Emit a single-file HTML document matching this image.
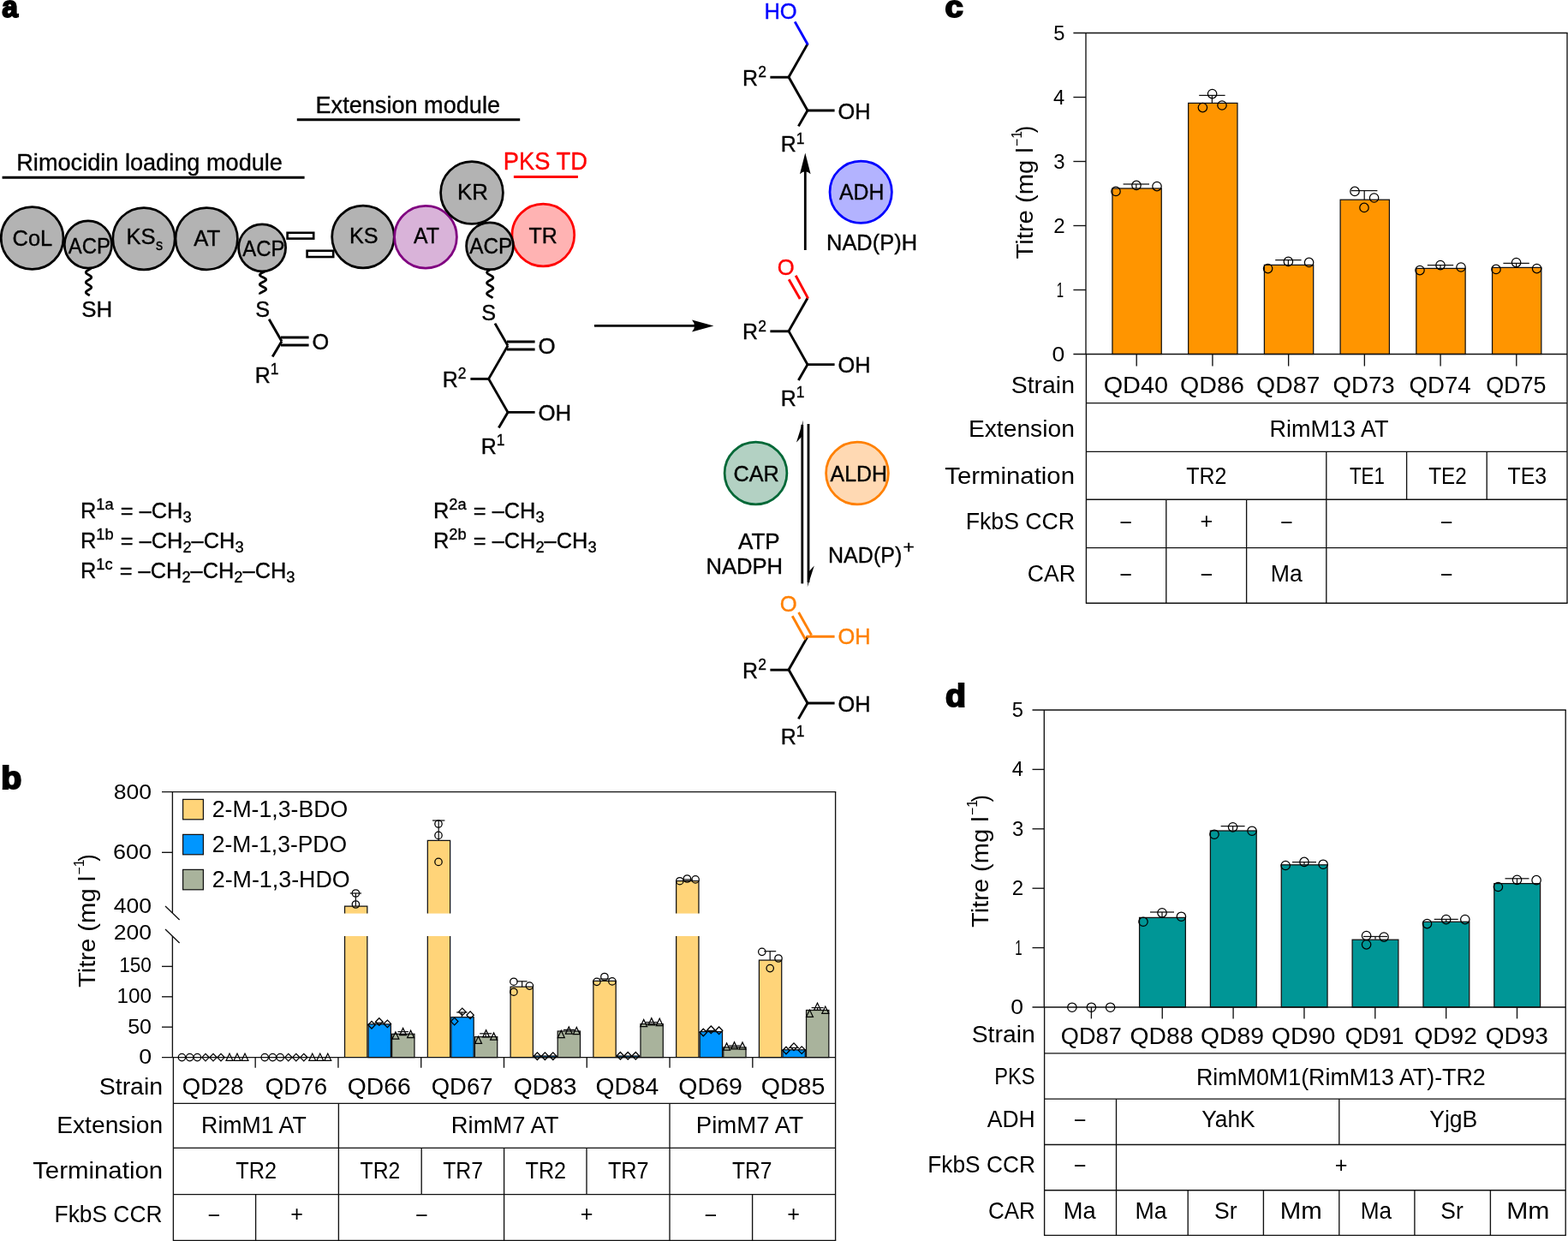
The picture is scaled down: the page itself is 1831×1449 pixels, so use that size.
<!DOCTYPE html>
<html lang="en">
<head>
<meta charset="utf-8">
<title>Figure</title>
<style>
html,body{margin:0;padding:0;background:#fff;}
body{width:1831px;height:1449px;overflow:hidden;}
svg{display:block;font-family:"Liberation Sans", sans-serif;}
svg text{white-space:pre;}
</style>
</head>
<body>
<svg width="1831" height="1449" viewBox="0 0 1831 1449">
<rect width="1831" height="1449" fill="#fff"/>
<text transform="translate(2.17,19.86) scale(0.8411,0.8667)" font-size="40" fill="#000" font-weight="700" stroke="#000" stroke-width="2.2" stroke-linejoin="miter">a</text>
<text transform="translate(1.24,921.32) scale(0.9842,0.9300)" font-size="40" fill="#000" font-weight="700" stroke="#000" stroke-width="2.2" stroke-linejoin="miter">b</text>
<text transform="translate(1103.61,19.86) scale(0.9550,0.8667)" font-size="40" fill="#000" font-weight="700" stroke="#000" stroke-width="2.2" stroke-linejoin="miter">c</text>
<text transform="translate(1103.88,825.02) scale(0.9794,0.9200)" font-size="40" fill="#000" font-weight="700" stroke="#000" stroke-width="2.2" stroke-linejoin="miter">d</text>
<text transform="translate(19.28,199.00) scale(1.0166,1.0350)" font-size="26.7" fill="#000" stroke="#000" stroke-width="0.35" stroke-linejoin="miter">Rimocidin loading module</text>
<line x1="2.60" y1="207.20" x2="355.60" y2="207.20" stroke="#000" stroke-width="2.9" stroke-linecap="butt"/>
<text transform="translate(368.48,131.80) scale(1.0159,1.0350)" font-size="26.7" fill="#000" stroke="#000" stroke-width="0.35" stroke-linejoin="miter">Extension module</text>
<line x1="346.80" y1="139.70" x2="607.20" y2="139.70" stroke="#000" stroke-width="2.9" stroke-linecap="butt"/>
<text transform="translate(587.87,198.20) scale(1.0212,1.0750)" font-size="26.7" fill="#ff0000" stroke="#ff0000" stroke-width="0.35" stroke-linejoin="miter">PKS TD</text>
<line x1="599.90" y1="206.50" x2="674.90" y2="206.50" stroke="#ff0000" stroke-width="2.9" stroke-linecap="butt"/>
<path d="M106.39,313.00 L106.03,313.40 L105.55,313.80 L104.97,314.20 L104.33,314.60 L103.65,315.00 L102.96,315.40 L102.30,315.80 L101.69,316.20 L101.17,316.60 L100.75,317.00 L100.47,317.40 L100.32,317.80 L100.32,318.20 L100.47,318.60 L100.75,319.00 L101.17,319.40 L101.69,319.80 L102.30,320.20 L102.96,320.60 L103.65,321.00 L104.33,321.40 L104.97,321.80 L105.55,322.20 L106.03,322.60 L106.39,323.00 L106.62,323.40 L106.70,323.80 L106.63,324.20 L106.42,324.60 L106.08,325.00 L105.61,325.40 L105.05,325.80 L104.41,326.20 L103.74,326.60 L103.05,327.00 L102.38,327.40 L101.77,327.80 L101.23,328.20 L100.80,328.60 L100.49,329.00 L100.33,329.40 L100.31,329.80 L100.44,330.20 L100.71,330.60 L101.11,331.00 L101.62,331.40 L102.22,331.80 L102.88,332.20 L103.56,332.60 L104.25,333.00 L104.90,333.40 L105.48,333.80 L105.97,334.20 L106.35,334.60 L106.60,335.00 L106.70,335.40 L106.65,335.80 L106.46,336.20 L106.13,336.60 L105.68,337.00 L105.12,337.40 L104.50,337.80 L103.82,338.20 L103.13,338.60 L102.46,339.00 L101.84,339.40 L101.29,339.80 L100.85,340.20 L100.53,340.60 L100.34,341.00 L100.30,341.40 L100.42,341.80 L100.67,342.20 L101.05,342.60 L101.55,343.00 L102.14,343.40 L102.79,343.80 L103.48,344.20 L104.16,344.60 L104.82,345.00" fill="none" stroke="#000" stroke-width="2.8" stroke-linecap="butt" stroke-linejoin="round"/>
<path d="M309.85,316.50 L309.37,316.84 L308.81,317.18 L308.17,317.52 L307.50,317.86 L306.81,318.19 L306.12,318.53 L305.47,318.87 L304.87,319.21 L304.35,319.55 L303.92,319.89 L303.61,320.23 L303.41,320.56 L303.35,320.90 L303.42,321.24 L303.61,321.58 L303.93,321.92 L304.36,322.26 L304.88,322.60 L305.48,322.94 L306.14,323.27 L306.82,323.61 L307.52,323.95 L308.19,324.29 L308.82,324.63 L309.38,324.97 L309.86,325.31 L310.24,325.65 L310.50,325.99 L310.63,326.32 L310.63,326.66 L310.51,327.00 L310.25,327.34 L309.88,327.68 L309.41,328.02 L308.84,328.36 L308.22,328.69 L307.54,329.03 L306.85,329.37 L306.17,329.71 L305.51,330.05 L304.91,330.39 L304.38,330.73 L303.95,331.07 L303.62,331.41 L303.42,331.74 L303.35,332.08 L303.41,332.42 L303.60,332.76 L303.91,333.10 L304.33,333.44 L304.85,333.78 L305.44,334.12 L306.10,334.45 L306.78,334.79 L307.47,335.13 L308.15,335.47 L308.78,335.81 L309.35,336.15 L309.84,336.49 L310.22,336.83 L310.49,337.16 L310.63,337.50 L310.64,337.84 L310.52,338.18 L310.27,338.52 L309.91,338.86 L309.44,339.20 L308.88,339.54 L308.26,339.87 L307.59,340.21 L306.90,340.55 L306.21,340.89 L305.55,341.23 L304.94,341.57 L304.41,341.91 L303.97,342.25 L303.64,342.58 L303.43,342.92 L303.35,343.26 L303.40,343.60" fill="none" stroke="#000" stroke-width="2.8" stroke-linecap="butt" stroke-linejoin="round"/>
<path d="M572.92,314.50 L572.17,314.92 L571.41,315.34 L570.69,315.76 L570.03,316.18 L569.48,316.59 L569.04,317.01 L568.75,317.43 L568.61,317.85 L568.63,318.27 L568.82,318.69 L569.15,319.11 L569.62,319.52 L570.21,319.94 L570.89,320.36 L571.62,320.78 L572.38,321.20 L573.14,321.62 L573.85,322.04 L574.48,322.46 L575.02,322.88 L575.43,323.29 L575.69,323.71 L575.80,324.13 L575.74,324.55 L575.53,324.97 L575.17,325.39 L574.67,325.81 L574.07,326.23 L573.38,326.64 L572.63,327.06 L571.87,327.48 L571.12,327.90 L570.42,328.32 L569.80,328.74 L569.29,329.16 L568.91,329.57 L568.68,329.99 L568.60,330.41 L568.69,330.83 L568.93,331.25 L569.32,331.67 L569.84,332.09 L570.46,332.51 L571.17,332.93 L571.92,333.34 L572.68,333.76 L573.42,334.18 L574.10,334.60 L574.70,335.02 L575.19,335.44 L575.55,335.86 L575.75,336.27 L575.80,336.69 L575.68,337.11 L575.41,337.53 L574.99,337.95 L574.45,338.37 L573.81,338.79 L573.09,339.21 L572.34,339.62 L571.58,340.04 L570.84,340.46 L570.17,340.88 L569.59,341.30 L569.13,341.72 L568.80,342.14 L568.63,342.56 L568.61,342.98 L568.76,343.39 L569.06,343.81 L569.51,344.23 L570.07,344.65 L570.73,345.07 L571.45,345.49 L572.21,345.91 L572.97,346.32 L573.69,346.74 L574.35,347.16 L574.91,347.58 L575.35,348.00" fill="none" stroke="#000" stroke-width="2.8" stroke-linecap="butt" stroke-linejoin="round"/>
<circle cx="37.60" cy="278.00" r="36.40" fill="#b3b3b3" stroke="#000" stroke-width="2.75"/>
<text transform="translate(14.51,287.30) scale(1.0313,1.0450)" font-size="24.7" fill="#000" stroke="#000" stroke-width="0.35" stroke-linejoin="miter">CoL</text>
<circle cx="168.00" cy="278.70" r="36.20" fill="#b3b3b3" stroke="#000" stroke-width="2.75"/>
<circle cx="102.90" cy="285.50" r="27.60" fill="#b3b3b3" stroke="#000" stroke-width="2.75"/>
<text transform="translate(79.70,295.60) scale(0.9688,1.0450)" font-size="24.7" fill="#000" stroke="#000" stroke-width="0.35" stroke-linejoin="miter">ACP</text>
<text transform="translate(147.50,285.40) scale(1.0373,1.0450)" font-size="24.7" fill="#000" stroke="#000" stroke-width="0.35" stroke-linejoin="miter">KS</text>
<text transform="translate(181.94,291.70) scale(0.9332,1.0450)" font-size="17.5" fill="#000" stroke="#000" stroke-width="0.35" stroke-linejoin="miter">s</text>
<circle cx="241.20" cy="278.70" r="36.20" fill="#b3b3b3" stroke="#000" stroke-width="2.75"/>
<text transform="translate(226.20,287.30) scale(1.0407,1.0450)" font-size="24.7" fill="#000" stroke="#000" stroke-width="0.35" stroke-linejoin="miter">AT</text>
<circle cx="306.10" cy="289.30" r="27.50" fill="#b3b3b3" stroke="#000" stroke-width="2.75"/>
<text transform="translate(283.30,298.90) scale(0.9688,1.0450)" font-size="24.7" fill="#000" stroke="#000" stroke-width="0.35" stroke-linejoin="miter">ACP</text>
<rect x="335.60" y="271.80" width="30.60" height="6.80" fill="#fff" stroke="#000" stroke-width="2.6"/>
<rect x="358.60" y="292.80" width="30.60" height="7.20" fill="#fff" stroke="#000" stroke-width="2.6"/>
<circle cx="424.00" cy="276.50" r="36.30" fill="#b3b3b3" stroke="#000" stroke-width="2.75"/>
<text transform="translate(408.03,284.20) scale(1.0206,1.0450)" font-size="24.7" fill="#000" stroke="#000" stroke-width="0.35" stroke-linejoin="miter">KS</text>
<circle cx="497.00" cy="276.70" r="36.40" fill="#d9b3d9" stroke="#800080" stroke-width="2.75"/>
<text transform="translate(483.00,284.20) scale(1.0032,1.0450)" font-size="24.7" fill="#000" stroke="#000" stroke-width="0.35" stroke-linejoin="miter">AT</text>
<circle cx="551.00" cy="225.00" r="36.40" fill="#b3b3b3" stroke="#000" stroke-width="2.75"/>
<text transform="translate(533.98,233.20) scale(1.0467,1.0450)" font-size="24.7" fill="#000" stroke="#000" stroke-width="0.35" stroke-linejoin="miter">KR</text>
<circle cx="634.30" cy="274.50" r="36.40" fill="#ffb3b3" stroke="#ff0000" stroke-width="2.75"/>
<text transform="translate(617.61,284.20) scale(1.0100,1.0450)" font-size="24.7" fill="#000" stroke="#000" stroke-width="0.35" stroke-linejoin="miter">TR</text>
<circle cx="572.00" cy="287.30" r="27.40" fill="#b3b3b3" stroke="#000" stroke-width="2.75"/>
<text transform="translate(548.20,295.50) scale(0.9869,1.0450)" font-size="24.7" fill="#000" stroke="#000" stroke-width="0.35" stroke-linejoin="miter">ACP</text>
<text transform="translate(95.19,370.00) scale(1.0342,1.0450)" font-size="25.0" fill="#000" stroke="#000" stroke-width="0.35" stroke-linejoin="miter">SH</text>
<text transform="translate(298.21,369.80) scale(1.0105,1.0450)" font-size="25.0" fill="#000" stroke="#000" stroke-width="0.35" stroke-linejoin="miter">S</text>
<line x1="314.20" y1="372.80" x2="329.00" y2="398.50" stroke="#000" stroke-width="2.9" stroke-linecap="butt"/>
<line x1="328.00" y1="394.00" x2="360.60" y2="394.00" stroke="#000" stroke-width="2.9" stroke-linecap="butt"/>
<line x1="328.00" y1="403.00" x2="360.60" y2="403.00" stroke="#000" stroke-width="2.9" stroke-linecap="butt"/>
<text transform="translate(364.41,408.00) scale(1.0124,1.0450)" font-size="25.0" fill="#000" stroke="#000" stroke-width="0.35" stroke-linejoin="miter">O</text>
<line x1="329.00" y1="398.50" x2="318.20" y2="416.40" stroke="#000" stroke-width="2.9" stroke-linecap="butt"/>
<text transform="translate(297.70,447.00) scale(1.0,1.045)" font-size="25.0" fill="#000" stroke="#000" stroke-width="0.35"><tspan dy="0.00" font-size="25.00">R</tspan><tspan dy="-9.20" font-size="17.50">1</tspan></text>
<text transform="translate(562.21,374.20) scale(1.0105,1.0450)" font-size="25.0" fill="#000" stroke="#000" stroke-width="0.35" stroke-linejoin="miter">S</text>
<line x1="578.00" y1="377.60" x2="593.00" y2="403.60" stroke="#000" stroke-width="2.9" stroke-linecap="butt"/>
<line x1="592.00" y1="399.00" x2="624.60" y2="399.00" stroke="#000" stroke-width="2.9" stroke-linecap="butt"/>
<line x1="592.00" y1="408.00" x2="624.60" y2="408.00" stroke="#000" stroke-width="2.9" stroke-linecap="butt"/>
<text transform="translate(628.39,413.00) scale(1.0356,1.0450)" font-size="25.0" fill="#000" stroke="#000" stroke-width="0.35" stroke-linejoin="miter">O</text>
<line x1="593.00" y1="403.60" x2="570.60" y2="442.40" stroke="#000" stroke-width="2.9" stroke-linecap="butt"/>
<line x1="549.40" y1="442.40" x2="571.60" y2="442.40" stroke="#000" stroke-width="2.9" stroke-linecap="butt"/>
<text transform="translate(516.70,452.00) scale(1.0,1.045)" font-size="25.0" fill="#000" stroke="#000" stroke-width="0.35"><tspan dy="0.00" font-size="25.00">R</tspan><tspan dy="-9.20" font-size="17.50">2</tspan></text>
<line x1="570.60" y1="442.40" x2="593.00" y2="481.40" stroke="#000" stroke-width="2.9" stroke-linecap="butt"/>
<line x1="592.40" y1="481.40" x2="624.60" y2="481.40" stroke="#000" stroke-width="2.9" stroke-linecap="butt"/>
<text transform="translate(628.39,491.00) scale(1.0324,1.0450)" font-size="25.0" fill="#000" stroke="#000" stroke-width="0.35" stroke-linejoin="miter">OH</text>
<line x1="593.00" y1="481.40" x2="582.40" y2="499.60" stroke="#000" stroke-width="2.9" stroke-linecap="butt"/>
<text transform="translate(561.70,529.60) scale(1.0,1.045)" font-size="25.0" fill="#000" stroke="#000" stroke-width="0.35"><tspan dy="0.00" font-size="25.00">R</tspan><tspan dy="-9.20" font-size="17.50">1</tspan></text>
<text transform="translate(94.00,605.00) scale(1.0,1.045)" font-size="25.4" fill="#000" stroke="#000" stroke-width="0.35"><tspan dy="0.00" font-size="25.40">R</tspan><tspan dy="-9.65" font-size="18.29">1a</tspan><tspan dy="9.65" dx="1.0" font-size="25.40"> = </tspan><tspan dy="0.00" font-size="25.40">–CH</tspan><tspan dy="4.32" font-size="18.29">3</tspan></text>
<text transform="translate(94.00,640.00) scale(1.0,1.045)" font-size="25.4" fill="#000" stroke="#000" stroke-width="0.35"><tspan dy="0.00" font-size="25.40">R</tspan><tspan dy="-9.65" font-size="18.29">1b</tspan><tspan dy="9.65" dx="1.0" font-size="25.40"> = </tspan><tspan dy="0.00" font-size="25.40">–CH</tspan><tspan dy="4.32" font-size="18.29">2</tspan><tspan dy="-4.32" font-size="25.40">–CH</tspan><tspan dy="4.32" font-size="18.29">3</tspan></text>
<text transform="translate(94.00,675.00) scale(1.0,1.045)" font-size="25.4" fill="#000" stroke="#000" stroke-width="0.35"><tspan dy="0.00" font-size="25.40">R</tspan><tspan dy="-9.65" font-size="18.29">1c</tspan><tspan dy="9.65" dx="1.0" font-size="25.40"> = </tspan><tspan dy="0.00" font-size="25.40">–CH</tspan><tspan dy="4.32" font-size="18.29">2</tspan><tspan dy="-4.32" font-size="25.40">–CH</tspan><tspan dy="4.32" font-size="18.29">2</tspan><tspan dy="-4.32" font-size="25.40">–CH</tspan><tspan dy="4.32" font-size="18.29">3</tspan></text>
<text transform="translate(506.00,605.00) scale(1.0,1.045)" font-size="25.4" fill="#000" stroke="#000" stroke-width="0.35"><tspan dy="0.00" font-size="25.40">R</tspan><tspan dy="-9.65" font-size="18.29">2a</tspan><tspan dy="9.65" dx="1.0" font-size="25.40"> = </tspan><tspan dy="0.00" font-size="25.40">–CH</tspan><tspan dy="4.32" font-size="18.29">3</tspan></text>
<text transform="translate(506.00,640.00) scale(1.0,1.045)" font-size="25.4" fill="#000" stroke="#000" stroke-width="0.35"><tspan dy="0.00" font-size="25.40">R</tspan><tspan dy="-9.65" font-size="18.29">2b</tspan><tspan dy="9.65" dx="1.0" font-size="25.40"> = </tspan><tspan dy="0.00" font-size="25.40">–CH</tspan><tspan dy="4.32" font-size="18.29">2</tspan><tspan dy="-4.32" font-size="25.40">–CH</tspan><tspan dy="4.32" font-size="18.29">3</tspan></text>
<line x1="694.00" y1="380.40" x2="812.00" y2="380.40" stroke="#000" stroke-width="2.8" stroke-linecap="butt"/>
<path d="M833.4,380.4 L808,373.4 Q814,380.4 808,387.4 Z" fill="#000" stroke="none" stroke-width="1" stroke-linecap="butt" stroke-linejoin="miter"/>
<line x1="943.00" y1="51.40" x2="921.00" y2="90.00" stroke="#000" stroke-width="2.9" stroke-linecap="butt"/>
<line x1="899.40" y1="90.20" x2="922.00" y2="90.20" stroke="#000" stroke-width="2.9" stroke-linecap="butt"/>
<text transform="translate(867.10,99.60) scale(1.0,1.045)" font-size="25.0" fill="#000" stroke="#000" stroke-width="0.35"><tspan dy="0.00" font-size="25.00">R</tspan><tspan dy="-9.20" font-size="17.50">2</tspan></text>
<line x1="921.00" y1="90.00" x2="943.00" y2="129.00" stroke="#000" stroke-width="2.9" stroke-linecap="butt"/>
<line x1="942.40" y1="129.00" x2="974.60" y2="129.00" stroke="#000" stroke-width="2.9" stroke-linecap="butt"/>
<text transform="translate(978.41,138.80) scale(1.0149,1.0450)" font-size="25.0" fill="#000" stroke="#000" stroke-width="0.35" stroke-linejoin="miter">OH</text>
<line x1="943.00" y1="129.00" x2="932.40" y2="147.40" stroke="#000" stroke-width="2.9" stroke-linecap="butt"/>
<text transform="translate(911.70,177.20) scale(1.0,1.045)" font-size="25.0" fill="#000" stroke="#000" stroke-width="0.35"><tspan dy="0.00" font-size="25.00">R</tspan><tspan dy="-9.20" font-size="17.50">1</tspan></text>
<line x1="928.20" y1="25.40" x2="943.40" y2="52.20" stroke="#0000ff" stroke-width="2.9" stroke-linecap="butt"/>
<text transform="translate(892.40,21.60) scale(1.0215,1.0450)" font-size="25.0" fill="#0000ff" stroke="#0000ff" stroke-width="0.35" stroke-linejoin="miter">HO</text>
<line x1="943.00" y1="348.00" x2="921.00" y2="386.60" stroke="#000" stroke-width="2.9" stroke-linecap="butt"/>
<line x1="899.40" y1="386.80" x2="922.00" y2="386.80" stroke="#000" stroke-width="2.9" stroke-linecap="butt"/>
<text transform="translate(867.10,396.20) scale(1.0,1.045)" font-size="25.0" fill="#000" stroke="#000" stroke-width="0.35"><tspan dy="0.00" font-size="25.00">R</tspan><tspan dy="-9.20" font-size="17.50">2</tspan></text>
<line x1="921.00" y1="386.60" x2="943.00" y2="425.60" stroke="#000" stroke-width="2.9" stroke-linecap="butt"/>
<line x1="942.40" y1="425.60" x2="974.60" y2="425.60" stroke="#000" stroke-width="2.9" stroke-linecap="butt"/>
<text transform="translate(978.41,435.40) scale(1.0149,1.0450)" font-size="25.0" fill="#000" stroke="#000" stroke-width="0.35" stroke-linejoin="miter">OH</text>
<line x1="943.00" y1="425.60" x2="932.40" y2="444.00" stroke="#000" stroke-width="2.9" stroke-linecap="butt"/>
<text transform="translate(911.70,473.80) scale(1.0,1.045)" font-size="25.0" fill="#000" stroke="#000" stroke-width="0.35"><tspan dy="0.00" font-size="25.00">R</tspan><tspan dy="-9.20" font-size="17.50">1</tspan></text>
<line x1="929.20" y1="321.80" x2="943.60" y2="348.40" stroke="#ff0000" stroke-width="2.9" stroke-linecap="butt"/>
<line x1="921.20" y1="326.20" x2="934.20" y2="349.00" stroke="#ff0000" stroke-width="2.9" stroke-linecap="butt"/>
<text transform="translate(907.80,321.00) scale(1.0240,1.0450)" font-size="25.0" fill="#ff0000" stroke="#ff0000" stroke-width="0.35" stroke-linejoin="miter">O</text>
<line x1="943.00" y1="743.40" x2="921.00" y2="782.00" stroke="#000" stroke-width="2.9" stroke-linecap="butt"/>
<line x1="899.40" y1="782.20" x2="922.00" y2="782.20" stroke="#000" stroke-width="2.9" stroke-linecap="butt"/>
<text transform="translate(867.10,791.60) scale(1.0,1.045)" font-size="25.0" fill="#000" stroke="#000" stroke-width="0.35"><tspan dy="0.00" font-size="25.00">R</tspan><tspan dy="-9.20" font-size="17.50">2</tspan></text>
<line x1="921.00" y1="782.00" x2="943.00" y2="821.00" stroke="#000" stroke-width="2.9" stroke-linecap="butt"/>
<line x1="942.40" y1="821.00" x2="974.60" y2="821.00" stroke="#000" stroke-width="2.9" stroke-linecap="butt"/>
<text transform="translate(978.41,830.80) scale(1.0149,1.0450)" font-size="25.0" fill="#000" stroke="#000" stroke-width="0.35" stroke-linejoin="miter">OH</text>
<line x1="943.00" y1="821.00" x2="932.40" y2="839.40" stroke="#000" stroke-width="2.9" stroke-linecap="butt"/>
<text transform="translate(911.70,869.20) scale(1.0,1.045)" font-size="25.0" fill="#000" stroke="#000" stroke-width="0.35"><tspan dy="0.00" font-size="25.00">R</tspan><tspan dy="-9.20" font-size="17.50">1</tspan></text>
<line x1="925.20" y1="719.20" x2="940.60" y2="746.80" stroke="#ff8000" stroke-width="2.9" stroke-linecap="butt"/>
<line x1="932.60" y1="715.00" x2="947.60" y2="741.60" stroke="#ff8000" stroke-width="2.9" stroke-linecap="butt"/>
<line x1="941.50" y1="743.20" x2="974.60" y2="743.20" stroke="#ff8000" stroke-width="2.9" stroke-linecap="butt"/>
<text transform="translate(910.80,714.00) scale(1.0240,1.0450)" font-size="25.0" fill="#ff8000" stroke="#ff8000" stroke-width="0.35" stroke-linejoin="miter">O</text>
<text transform="translate(978.41,752.40) scale(1.0149,1.0450)" font-size="25.0" fill="#ff8000" stroke="#ff8000" stroke-width="0.35" stroke-linejoin="miter">OH</text>
<line x1="940.30" y1="292.00" x2="940.30" y2="198.00" stroke="#000" stroke-width="2.8" stroke-linecap="butt"/>
<path d="M940.3,178.6 L934.0,203.2 Q940.3,197.5 946.6,203.2 Z" fill="#000" stroke="none" stroke-width="1" stroke-linecap="butt" stroke-linejoin="miter"/>
<circle cx="1005.20" cy="224.20" r="36.20" fill="#b3b3ff" stroke="#0000ff" stroke-width="2.75"/>
<text transform="translate(980.00,233.00) scale(1.0053,1.0450)" font-size="24.7" fill="#000" stroke="#000" stroke-width="0.35" stroke-linejoin="miter">ADH</text>
<text transform="translate(965.01,292.40) scale(1.0183,1.0450)" font-size="25.0" fill="#000" stroke="#000" stroke-width="0.35" stroke-linejoin="miter">NAD(P)H</text>
<line x1="936.80" y1="681.40" x2="936.80" y2="496.00" stroke="#000" stroke-width="2.8" stroke-linecap="butt"/>
<path d="M938.0,490.6 L930.0,516.6 Q934.6,511.5 936.4,509.5 Z" fill="#000" stroke="none" stroke-width="1" stroke-linecap="butt" stroke-linejoin="miter"/>
<line x1="944.00" y1="495.00" x2="944.00" y2="680.00" stroke="#000" stroke-width="2.8" stroke-linecap="butt"/>
<path d="M942.8,685.6 L950.8,660.6 Q946.4,665.5 944.4,667.5 Z" fill="#000" stroke="none" stroke-width="1" stroke-linecap="butt" stroke-linejoin="miter"/>
<circle cx="882.50" cy="552.50" r="36.40" fill="#b3d1c3" stroke="#006837" stroke-width="2.75"/>
<text transform="translate(856.41,562.00) scale(1.0252,1.0450)" font-size="24.7" fill="#000" stroke="#000" stroke-width="0.35" stroke-linejoin="miter">CAR</text>
<circle cx="1001.00" cy="552.50" r="36.40" fill="#ffd9b3" stroke="#ff8000" stroke-width="2.75"/>
<text transform="translate(969.60,562.00) scale(1.0083,1.0450)" font-size="24.7" fill="#000" stroke="#000" stroke-width="0.35" stroke-linejoin="miter">ALDH</text>
<text transform="translate(862.00,641.00) scale(1.0412,1.0450)" font-size="25.0" fill="#000" stroke="#000" stroke-width="0.35" stroke-linejoin="miter">ATP</text>
<text transform="translate(824.40,670.00) scale(1.0249,1.0450)" font-size="25.0" fill="#000" stroke="#000" stroke-width="0.35" stroke-linejoin="miter">NADPH</text>
<text transform="translate(967.04,657.00) scale(1.0017,1.0450)" font-size="25.0" fill="#000" stroke="#000" stroke-width="0.35" stroke-linejoin="miter">NAD(P)</text>
<text transform="translate(1054.53,645.50) scale(1.2000,1.0450)" font-size="19" fill="#000" stroke="#000" stroke-width="0.35" stroke-linejoin="miter">+</text>
<rect x="402.55" y="1058.00" width="26.30" height="8.60" fill="#ffd479" stroke="none" stroke-width="1"/>
<rect x="402.55" y="1093.00" width="26.30" height="141.60" fill="#ffd479" stroke="none" stroke-width="1"/>
<path d="M402.55,1066.6 L402.55,1058.00 L428.85,1058.00 L428.85,1066.6" fill="none" stroke="#111" stroke-width="1.25" stroke-linecap="butt" stroke-linejoin="miter"/>
<path d="M402.55,1093 L402.55,1234.60 M428.85,1093 L428.85,1234.60" fill="none" stroke="#111" stroke-width="1.25" stroke-linecap="butt" stroke-linejoin="miter"/>
<rect x="430.10" y="1195.90" width="26.30" height="38.70" fill="#0096ff" stroke="#111" stroke-width="1.25"/>
<rect x="457.65" y="1207.30" width="26.30" height="27.30" fill="#a9b39c" stroke="#111" stroke-width="1.25"/>
<rect x="499.33" y="981.40" width="26.30" height="85.20" fill="#ffd479" stroke="none" stroke-width="1"/>
<rect x="499.33" y="1093.00" width="26.30" height="141.60" fill="#ffd479" stroke="none" stroke-width="1"/>
<path d="M499.33,1066.6 L499.33,981.40 L525.62,981.40 L525.62,1066.6" fill="none" stroke="#111" stroke-width="1.25" stroke-linecap="butt" stroke-linejoin="miter"/>
<path d="M499.33,1093 L499.33,1234.60 M525.62,1093 L525.62,1234.60" fill="none" stroke="#111" stroke-width="1.25" stroke-linecap="butt" stroke-linejoin="miter"/>
<rect x="526.88" y="1187.70" width="26.30" height="46.90" fill="#0096ff" stroke="#111" stroke-width="1.25"/>
<rect x="554.43" y="1210.60" width="26.30" height="24.00" fill="#a9b39c" stroke="#111" stroke-width="1.25"/>
<rect x="596.10" y="1152.20" width="26.30" height="82.40" fill="#ffd479" stroke="#111" stroke-width="1.25"/>
<rect x="623.65" y="1233.00" width="26.30" height="1.60" fill="#0096ff" stroke="#111" stroke-width="1.25"/>
<rect x="651.20" y="1204.00" width="26.30" height="30.60" fill="#a9b39c" stroke="#111" stroke-width="1.25"/>
<rect x="692.88" y="1145.40" width="26.30" height="89.20" fill="#ffd479" stroke="#111" stroke-width="1.25"/>
<rect x="720.42" y="1233.00" width="26.30" height="1.60" fill="#0096ff" stroke="#111" stroke-width="1.25"/>
<rect x="747.98" y="1195.60" width="26.30" height="39.00" fill="#a9b39c" stroke="#111" stroke-width="1.25"/>
<rect x="789.65" y="1028.70" width="26.30" height="37.90" fill="#ffd479" stroke="none" stroke-width="1"/>
<rect x="789.65" y="1093.00" width="26.30" height="141.60" fill="#ffd479" stroke="none" stroke-width="1"/>
<path d="M789.65,1066.6 L789.65,1028.70 L815.95,1028.70 L815.95,1066.6" fill="none" stroke="#111" stroke-width="1.25" stroke-linecap="butt" stroke-linejoin="miter"/>
<path d="M789.65,1093 L789.65,1234.60 M815.95,1093 L815.95,1234.60" fill="none" stroke="#111" stroke-width="1.25" stroke-linecap="butt" stroke-linejoin="miter"/>
<rect x="817.20" y="1204.60" width="26.30" height="30.00" fill="#0096ff" stroke="#111" stroke-width="1.25"/>
<rect x="844.75" y="1222.90" width="26.30" height="11.70" fill="#a9b39c" stroke="#111" stroke-width="1.25"/>
<rect x="886.43" y="1121.10" width="26.30" height="113.50" fill="#ffd479" stroke="#111" stroke-width="1.25"/>
<rect x="913.98" y="1225.80" width="26.30" height="8.80" fill="#0096ff" stroke="#111" stroke-width="1.25"/>
<rect x="941.53" y="1179.50" width="26.30" height="55.10" fill="#a9b39c" stroke="#111" stroke-width="1.25"/>
<line x1="189.00" y1="924.60" x2="976.20" y2="924.60" stroke="#111" stroke-width="1.35" stroke-linecap="butt"/>
<line x1="975.60" y1="924.60" x2="975.60" y2="1448.40" stroke="#111" stroke-width="1.35" stroke-linecap="butt"/>
<line x1="201.40" y1="924.60" x2="201.40" y2="1066.00" stroke="#111" stroke-width="1.35" stroke-linecap="butt"/>
<line x1="201.40" y1="1093.00" x2="201.40" y2="1234.60" stroke="#111" stroke-width="1.35" stroke-linecap="butt"/>
<line x1="189.00" y1="1234.60" x2="975.60" y2="1234.60" stroke="#111" stroke-width="1.35" stroke-linecap="butt"/>
<line x1="189.00" y1="995.30" x2="201.40" y2="995.30" stroke="#111" stroke-width="1.35" stroke-linecap="butt"/>
<line x1="189.00" y1="1128.40" x2="201.40" y2="1128.40" stroke="#111" stroke-width="1.35" stroke-linecap="butt"/>
<line x1="189.00" y1="1163.80" x2="201.40" y2="1163.80" stroke="#111" stroke-width="1.35" stroke-linecap="butt"/>
<line x1="189.00" y1="1199.20" x2="201.40" y2="1199.20" stroke="#111" stroke-width="1.35" stroke-linecap="butt"/>
<line x1="193.00" y1="1058.00" x2="209.60" y2="1074.00" stroke="#111" stroke-width="1.35" stroke-linecap="butt"/>
<line x1="193.00" y1="1085.00" x2="209.60" y2="1101.00" stroke="#111" stroke-width="1.35" stroke-linecap="butt"/>
<line x1="298.18" y1="1234.60" x2="298.18" y2="1246.80" stroke="#111" stroke-width="1.35" stroke-linecap="butt"/>
<line x1="394.95" y1="1234.60" x2="394.95" y2="1246.80" stroke="#111" stroke-width="1.35" stroke-linecap="butt"/>
<line x1="491.73" y1="1234.60" x2="491.73" y2="1246.80" stroke="#111" stroke-width="1.35" stroke-linecap="butt"/>
<line x1="588.50" y1="1234.60" x2="588.50" y2="1246.80" stroke="#111" stroke-width="1.35" stroke-linecap="butt"/>
<line x1="685.27" y1="1234.60" x2="685.27" y2="1246.80" stroke="#111" stroke-width="1.35" stroke-linecap="butt"/>
<line x1="782.05" y1="1234.60" x2="782.05" y2="1246.80" stroke="#111" stroke-width="1.35" stroke-linecap="butt"/>
<line x1="878.83" y1="1234.60" x2="878.83" y2="1246.80" stroke="#111" stroke-width="1.35" stroke-linecap="butt"/>
<text transform="translate(132.77,932.90) scale(1.1248,1.0000)" font-size="23.6" fill="#000">800</text>
<text transform="translate(131.93,1002.60) scale(1.1464,1.0000)" font-size="23.6" fill="#000">600</text>
<text transform="translate(132.79,1065.80) scale(1.1244,1.0000)" font-size="23.6" fill="#000">400</text>
<text transform="translate(132.76,1097.20) scale(1.1252,1.0000)" font-size="23.6" fill="#000">200</text>
<text transform="translate(139.18,1135.40) scale(0.9595,1.0000)" font-size="23.6" fill="#000">150</text>
<text transform="translate(136.48,1171.00) scale(1.0291,1.0000)" font-size="23.6" fill="#000">100</text>
<text transform="translate(149.22,1206.80) scale(1.0592,1.0000)" font-size="23.6" fill="#000">50</text>
<text transform="translate(162.16,1242.00) scale(1.1356,1.0000)" font-size="23.6" fill="#000">0</text>
<text transform="translate(111.10,1153.06) rotate(-90) scale(1.0544,1.0000)" font-size="27.7" fill="#000">Titre (mg l</text>
<text transform="translate(97.50,1021.54) rotate(-90) scale(0.9710,1.0000)" font-size="16.4" fill="#000">−1</text>
<text transform="translate(111.10,1005.87) rotate(-90) scale(0.9081,1.0000)" font-size="27.7" fill="#000">)</text>
<rect x="213.60" y="933.40" width="23.80" height="23.40" fill="#ffd479" stroke="#111" stroke-width="1.25"/>
<text transform="translate(247.75,954.00) scale(0.9868,1.0000)" font-size="27.0" fill="#000">2-M-1,3-BDO</text>
<rect x="213.60" y="974.40" width="23.80" height="23.40" fill="#0096ff" stroke="#111" stroke-width="1.25"/>
<text transform="translate(247.76,995.00) scale(0.9805,1.0000)" font-size="27.0" fill="#000">2-M-1,3-PDO</text>
<rect x="213.60" y="1015.40" width="23.80" height="23.40" fill="#a9b39c" stroke="#111" stroke-width="1.25"/>
<text transform="translate(247.74,1036.00) scale(0.9939,1.0000)" font-size="27.0" fill="#000">2-M-1,3-HDO</text>
<circle cx="212.40" cy="1234.60" r="4.20" fill="none" stroke="#000" stroke-width="1.25"/>
<circle cx="221.60" cy="1234.60" r="4.20" fill="none" stroke="#000" stroke-width="1.25"/>
<circle cx="230.40" cy="1234.60" r="4.20" fill="none" stroke="#000" stroke-width="1.25"/>
<path d="M235.80,1234.60 L240.00,1230.30 L244.20,1234.60 L240.00,1238.90 Z" fill="none" stroke="#000" stroke-width="1.25" stroke-linejoin="miter"/>
<path d="M244.80,1234.60 L249.00,1230.30 L253.20,1234.60 L249.00,1238.90 Z" fill="none" stroke="#000" stroke-width="1.25" stroke-linejoin="miter"/>
<path d="M253.80,1234.60 L258.00,1230.30 L262.20,1234.60 L258.00,1238.90 Z" fill="none" stroke="#000" stroke-width="1.25" stroke-linejoin="miter"/>
<path d="M264.10,1238.30 L268.00,1230.10 L271.90,1238.30 Z" fill="none" stroke="#000" stroke-width="1.25" stroke-linejoin="miter"/>
<path d="M273.10,1238.30 L277.00,1230.10 L280.90,1238.30 Z" fill="none" stroke="#000" stroke-width="1.25" stroke-linejoin="miter"/>
<path d="M282.10,1238.30 L286.00,1230.10 L289.90,1238.30 Z" fill="none" stroke="#000" stroke-width="1.25" stroke-linejoin="miter"/>
<circle cx="309.18" cy="1234.60" r="4.20" fill="none" stroke="#000" stroke-width="1.25"/>
<circle cx="318.38" cy="1234.60" r="4.20" fill="none" stroke="#000" stroke-width="1.25"/>
<circle cx="327.18" cy="1234.60" r="4.20" fill="none" stroke="#000" stroke-width="1.25"/>
<path d="M332.58,1234.60 L336.78,1230.30 L340.98,1234.60 L336.78,1238.90 Z" fill="none" stroke="#000" stroke-width="1.25" stroke-linejoin="miter"/>
<path d="M341.58,1234.60 L345.78,1230.30 L349.98,1234.60 L345.78,1238.90 Z" fill="none" stroke="#000" stroke-width="1.25" stroke-linejoin="miter"/>
<path d="M350.58,1234.60 L354.78,1230.30 L358.98,1234.60 L354.78,1238.90 Z" fill="none" stroke="#000" stroke-width="1.25" stroke-linejoin="miter"/>
<path d="M360.88,1238.30 L364.77,1230.10 L368.67,1238.30 Z" fill="none" stroke="#000" stroke-width="1.25" stroke-linejoin="miter"/>
<path d="M369.88,1238.30 L373.77,1230.10 L377.67,1238.30 Z" fill="none" stroke="#000" stroke-width="1.25" stroke-linejoin="miter"/>
<path d="M378.88,1238.30 L382.77,1230.10 L386.67,1238.30 Z" fill="none" stroke="#000" stroke-width="1.25" stroke-linejoin="miter"/>
<circle cx="415.40" cy="1043.00" r="4.20" fill="none" stroke="#000" stroke-width="1.25"/>
<circle cx="415.40" cy="1056.00" r="4.20" fill="none" stroke="#000" stroke-width="1.25"/>
<line x1="408.80" y1="1043.00" x2="422.00" y2="1043.00" stroke="#111" stroke-width="1.25" stroke-linecap="butt"/>
<line x1="415.40" y1="1043.00" x2="415.40" y2="1058.00" stroke="#111" stroke-width="1.25" stroke-linecap="butt"/>
<path d="M429.80,1196.70 L434.00,1192.40 L438.20,1196.70 L434.00,1201.00 Z" fill="none" stroke="#000" stroke-width="1.25" stroke-linejoin="miter"/>
<path d="M438.60,1193.00 L442.80,1188.70 L447.00,1193.00 L442.80,1197.30 Z" fill="none" stroke="#000" stroke-width="1.25" stroke-linejoin="miter"/>
<path d="M448.20,1195.40 L452.40,1191.10 L456.60,1195.40 L452.40,1199.70 Z" fill="none" stroke="#000" stroke-width="1.25" stroke-linejoin="miter"/>
<line x1="437.50" y1="1194.20" x2="448.50" y2="1194.20" stroke="#111" stroke-width="1.25" stroke-linecap="butt"/>
<path d="M458.00,1213.10 L461.90,1204.90 L465.80,1213.10 Z" fill="none" stroke="#000" stroke-width="1.25" stroke-linejoin="miter"/>
<path d="M466.70,1208.70 L470.60,1200.50 L474.50,1208.70 Z" fill="none" stroke="#000" stroke-width="1.25" stroke-linejoin="miter"/>
<path d="M475.70,1211.50 L479.60,1203.30 L483.50,1211.50 Z" fill="none" stroke="#000" stroke-width="1.25" stroke-linejoin="miter"/>
<line x1="464.50" y1="1204.60" x2="477.00" y2="1204.60" stroke="#111" stroke-width="1.25" stroke-linecap="butt"/>
<circle cx="512.00" cy="962.00" r="4.20" fill="none" stroke="#000" stroke-width="1.25"/>
<circle cx="512.00" cy="975.40" r="4.20" fill="none" stroke="#000" stroke-width="1.25"/>
<circle cx="512.00" cy="1006.40" r="4.20" fill="none" stroke="#000" stroke-width="1.25"/>
<line x1="505.00" y1="958.00" x2="519.40" y2="958.00" stroke="#111" stroke-width="1.25" stroke-linecap="butt"/>
<line x1="512.20" y1="958.00" x2="512.20" y2="981.40" stroke="#111" stroke-width="1.25" stroke-linecap="butt"/>
<path d="M526.50,1192.60 L530.70,1188.30 L534.90,1192.60 L530.70,1196.90 Z" fill="none" stroke="#000" stroke-width="1.25" stroke-linejoin="miter"/>
<path d="M535.60,1181.40 L539.80,1177.10 L544.00,1181.40 L539.80,1185.70 Z" fill="none" stroke="#000" stroke-width="1.25" stroke-linejoin="miter"/>
<path d="M544.90,1185.20 L549.10,1180.90 L553.30,1185.20 L549.10,1189.50 Z" fill="none" stroke="#000" stroke-width="1.25" stroke-linejoin="miter"/>
<line x1="533.20" y1="1182.00" x2="545.60" y2="1182.00" stroke="#111" stroke-width="1.25" stroke-linecap="butt"/>
<line x1="539.40" y1="1182.00" x2="539.40" y2="1187.70" stroke="#111" stroke-width="1.25" stroke-linecap="butt"/>
<path d="M554.70,1218.30 L558.60,1210.10 L562.50,1218.30 Z" fill="none" stroke="#000" stroke-width="1.25" stroke-linejoin="miter"/>
<path d="M563.70,1210.90 L567.60,1202.70 L571.50,1210.90 Z" fill="none" stroke="#000" stroke-width="1.25" stroke-linejoin="miter"/>
<path d="M572.70,1214.10 L576.60,1205.90 L580.50,1214.10 Z" fill="none" stroke="#000" stroke-width="1.25" stroke-linejoin="miter"/>
<line x1="560.20" y1="1206.80" x2="574.20" y2="1206.80" stroke="#111" stroke-width="1.25" stroke-linecap="butt"/>
<line x1="567.20" y1="1206.80" x2="567.20" y2="1210.60" stroke="#111" stroke-width="1.25" stroke-linecap="butt"/>
<circle cx="599.90" cy="1146.20" r="4.20" fill="none" stroke="#000" stroke-width="1.25"/>
<circle cx="618.40" cy="1151.10" r="4.20" fill="none" stroke="#000" stroke-width="1.25"/>
<circle cx="599.90" cy="1158.20" r="4.20" fill="none" stroke="#000" stroke-width="1.25"/>
<line x1="603.60" y1="1145.80" x2="615.60" y2="1145.80" stroke="#111" stroke-width="1.25" stroke-linecap="butt"/>
<line x1="609.60" y1="1145.80" x2="609.60" y2="1152.20" stroke="#111" stroke-width="1.25" stroke-linecap="butt"/>
<path d="M623.20,1233.20 L627.40,1228.90 L631.60,1233.20 L627.40,1237.50 Z" fill="none" stroke="#000" stroke-width="1.25" stroke-linejoin="miter"/>
<path d="M632.20,1233.20 L636.40,1228.90 L640.60,1233.20 L636.40,1237.50 Z" fill="none" stroke="#000" stroke-width="1.25" stroke-linejoin="miter"/>
<path d="M641.60,1233.20 L645.80,1228.90 L650.00,1233.20 L645.80,1237.50 Z" fill="none" stroke="#000" stroke-width="1.25" stroke-linejoin="miter"/>
<path d="M651.40,1211.50 L655.30,1203.30 L659.20,1211.50 Z" fill="none" stroke="#000" stroke-width="1.25" stroke-linejoin="miter"/>
<path d="M660.40,1207.10 L664.30,1198.90 L668.20,1207.10 Z" fill="none" stroke="#000" stroke-width="1.25" stroke-linejoin="miter"/>
<path d="M669.40,1207.70 L673.30,1199.50 L677.20,1207.70 Z" fill="none" stroke="#000" stroke-width="1.25" stroke-linejoin="miter"/>
<line x1="658.00" y1="1202.40" x2="671.00" y2="1202.40" stroke="#111" stroke-width="1.25" stroke-linecap="butt"/>
<circle cx="696.90" cy="1146.30" r="4.20" fill="none" stroke="#000" stroke-width="1.25"/>
<circle cx="705.90" cy="1140.50" r="4.20" fill="none" stroke="#000" stroke-width="1.25"/>
<circle cx="714.90" cy="1145.90" r="4.20" fill="none" stroke="#000" stroke-width="1.25"/>
<line x1="700.00" y1="1143.00" x2="712.00" y2="1143.00" stroke="#111" stroke-width="1.25" stroke-linecap="butt"/>
<path d="M720.20,1232.80 L724.40,1228.50 L728.60,1232.80 L724.40,1237.10 Z" fill="none" stroke="#000" stroke-width="1.25" stroke-linejoin="miter"/>
<path d="M729.00,1232.80 L733.20,1228.50 L737.40,1232.80 L733.20,1237.10 Z" fill="none" stroke="#000" stroke-width="1.25" stroke-linejoin="miter"/>
<path d="M738.10,1232.80 L742.30,1228.50 L746.50,1232.80 L742.30,1237.10 Z" fill="none" stroke="#000" stroke-width="1.25" stroke-linejoin="miter"/>
<path d="M747.80,1198.70 L751.70,1190.50 L755.60,1198.70 Z" fill="none" stroke="#000" stroke-width="1.25" stroke-linejoin="miter"/>
<path d="M756.90,1196.90 L760.80,1188.70 L764.70,1196.90 Z" fill="none" stroke="#000" stroke-width="1.25" stroke-linejoin="miter"/>
<path d="M766.30,1197.50 L770.20,1189.30 L774.10,1197.50 Z" fill="none" stroke="#000" stroke-width="1.25" stroke-linejoin="miter"/>
<line x1="754.00" y1="1193.60" x2="768.00" y2="1193.60" stroke="#111" stroke-width="1.25" stroke-linecap="butt"/>
<circle cx="793.80" cy="1028.70" r="4.20" fill="none" stroke="#000" stroke-width="1.25"/>
<circle cx="802.40" cy="1026.00" r="4.20" fill="none" stroke="#000" stroke-width="1.25"/>
<circle cx="812.10" cy="1026.90" r="4.20" fill="none" stroke="#000" stroke-width="1.25"/>
<line x1="797.00" y1="1027.00" x2="809.00" y2="1027.00" stroke="#111" stroke-width="1.25" stroke-linecap="butt"/>
<path d="M817.10,1205.50 L821.30,1201.20 L825.50,1205.50 L821.30,1209.80 Z" fill="none" stroke="#000" stroke-width="1.25" stroke-linejoin="miter"/>
<path d="M826.10,1202.30 L830.30,1198.00 L834.50,1202.30 L830.30,1206.60 Z" fill="none" stroke="#000" stroke-width="1.25" stroke-linejoin="miter"/>
<path d="M835.40,1203.30 L839.60,1199.00 L843.80,1203.30 L839.60,1207.60 Z" fill="none" stroke="#000" stroke-width="1.25" stroke-linejoin="miter"/>
<line x1="824.00" y1="1203.40" x2="836.50" y2="1203.40" stroke="#111" stroke-width="1.25" stroke-linecap="butt"/>
<path d="M844.70,1226.10 L848.60,1217.90 L852.50,1226.10 Z" fill="none" stroke="#000" stroke-width="1.25" stroke-linejoin="miter"/>
<path d="M853.60,1224.90 L857.50,1216.70 L861.40,1224.90 Z" fill="none" stroke="#000" stroke-width="1.25" stroke-linejoin="miter"/>
<path d="M863.10,1225.10 L867.00,1216.90 L870.90,1225.10 Z" fill="none" stroke="#000" stroke-width="1.25" stroke-linejoin="miter"/>
<line x1="851.00" y1="1221.00" x2="864.50" y2="1221.00" stroke="#111" stroke-width="1.25" stroke-linecap="butt"/>
<circle cx="889.80" cy="1111.30" r="4.20" fill="none" stroke="#000" stroke-width="1.25"/>
<circle cx="909.00" cy="1119.00" r="4.20" fill="none" stroke="#000" stroke-width="1.25"/>
<circle cx="899.20" cy="1130.60" r="4.20" fill="none" stroke="#000" stroke-width="1.25"/>
<line x1="892.20" y1="1110.70" x2="906.20" y2="1110.70" stroke="#111" stroke-width="1.25" stroke-linecap="butt"/>
<line x1="899.20" y1="1110.70" x2="899.20" y2="1121.10" stroke="#111" stroke-width="1.25" stroke-linecap="butt"/>
<path d="M913.80,1226.50 L918.00,1222.20 L922.20,1226.50 L918.00,1230.80 Z" fill="none" stroke="#000" stroke-width="1.25" stroke-linejoin="miter"/>
<path d="M922.80,1222.20 L927.00,1217.90 L931.20,1222.20 L927.00,1226.50 Z" fill="none" stroke="#000" stroke-width="1.25" stroke-linejoin="miter"/>
<path d="M932.00,1226.10 L936.20,1221.80 L940.40,1226.10 L936.20,1230.40 Z" fill="none" stroke="#000" stroke-width="1.25" stroke-linejoin="miter"/>
<line x1="921.00" y1="1223.40" x2="933.00" y2="1223.40" stroke="#111" stroke-width="1.25" stroke-linecap="butt"/>
<path d="M941.60,1187.30 L945.50,1179.10 L949.40,1187.30 Z" fill="none" stroke="#000" stroke-width="1.25" stroke-linejoin="miter"/>
<path d="M950.60,1179.30 L954.50,1171.10 L958.40,1179.30 Z" fill="none" stroke="#000" stroke-width="1.25" stroke-linejoin="miter"/>
<path d="M959.90,1183.30 L963.80,1175.10 L967.70,1183.30 Z" fill="none" stroke="#000" stroke-width="1.25" stroke-linejoin="miter"/>
<line x1="947.60" y1="1176.60" x2="961.60" y2="1176.60" stroke="#111" stroke-width="1.25" stroke-linecap="butt"/>
<line x1="954.60" y1="1176.60" x2="954.60" y2="1179.50" stroke="#111" stroke-width="1.25" stroke-linecap="butt"/>
<line x1="202.40" y1="1288.40" x2="975.60" y2="1288.40" stroke="#111" stroke-width="1.35" stroke-linecap="butt"/>
<line x1="202.40" y1="1340.40" x2="975.60" y2="1340.40" stroke="#111" stroke-width="1.35" stroke-linecap="butt"/>
<line x1="202.40" y1="1394.60" x2="975.60" y2="1394.60" stroke="#111" stroke-width="1.35" stroke-linecap="butt"/>
<line x1="202.40" y1="1448.30" x2="976.20" y2="1448.30" stroke="#111" stroke-width="1.35" stroke-linecap="butt"/>
<line x1="202.40" y1="1234.60" x2="202.40" y2="1448.90" stroke="#111" stroke-width="1.35" stroke-linecap="butt"/>
<line x1="395.40" y1="1288.40" x2="395.40" y2="1448.40" stroke="#111" stroke-width="1.35" stroke-linecap="butt"/>
<line x1="782.00" y1="1288.40" x2="782.00" y2="1448.40" stroke="#111" stroke-width="1.35" stroke-linecap="butt"/>
<line x1="588.60" y1="1340.40" x2="588.60" y2="1448.40" stroke="#111" stroke-width="1.35" stroke-linecap="butt"/>
<line x1="492.20" y1="1340.40" x2="492.20" y2="1394.60" stroke="#111" stroke-width="1.35" stroke-linecap="butt"/>
<line x1="685.00" y1="1340.40" x2="685.00" y2="1394.60" stroke="#111" stroke-width="1.35" stroke-linecap="butt"/>
<line x1="298.60" y1="1394.60" x2="298.60" y2="1448.40" stroke="#111" stroke-width="1.35" stroke-linecap="butt"/>
<line x1="878.60" y1="1394.60" x2="878.60" y2="1448.40" stroke="#111" stroke-width="1.35" stroke-linecap="butt"/>
<text transform="translate(115.71,1278.00) scale(1.0561,1.0000)" font-size="27.0" fill="#000">Strain</text>
<text transform="translate(66.19,1323.00) scale(1.0457,1.0000)" font-size="27.0" fill="#000">Extension</text>
<text transform="translate(38.14,1375.80) scale(1.0899,1.0000)" font-size="27.0" fill="#000">Termination</text>
<text transform="translate(63.54,1426.80) scale(0.9764,1.0000)" font-size="27.0" fill="#000">FkbS CCR</text>
<text transform="translate(212.71,1278.00) scale(1.0209,1.0000)" font-size="27.0" fill="#000">QD28</text>
<text transform="translate(309.70,1278.00) scale(1.0268,1.0000)" font-size="27.0" fill="#000">QD76</text>
<text transform="translate(405.67,1278.00) scale(1.0503,1.0000)" font-size="27.0" fill="#000">QD66</text>
<text transform="translate(503.71,1278.00) scale(1.0180,1.0000)" font-size="27.0" fill="#000">QD67</text>
<text transform="translate(599.67,1278.00) scale(1.0473,1.0000)" font-size="27.0" fill="#000">QD83</text>
<text transform="translate(695.48,1278.00) scale(1.0467,1.0000)" font-size="27.0" fill="#000">QD84</text>
<text transform="translate(792.36,1278.00) scale(1.0576,1.0000)" font-size="27.0" fill="#000">QD69</text>
<text transform="translate(888.66,1278.00) scale(1.0605,1.0000)" font-size="27.0" fill="#000">QD85</text>
<text transform="translate(235.11,1323.00) scale(0.9892,1.0000)" font-size="27.0" fill="#000">RimM1 AT</text>
<text transform="translate(526.86,1323.00) scale(1.0136,1.0000)" font-size="27.0" fill="#000">RimM7 AT</text>
<text transform="translate(812.74,1323.00) scale(1.0228,1.0000)" font-size="27.0" fill="#000">PimM7 AT</text>
<text transform="translate(275.20,1376.20) scale(0.9375,1.0000)" font-size="27.0" fill="#000">TR2</text>
<text transform="translate(420.61,1376.20) scale(0.9173,1.0000)" font-size="27.0" fill="#000">TR2</text>
<text transform="translate(517.21,1376.20) scale(0.9173,1.0000)" font-size="27.0" fill="#000">TR7</text>
<text transform="translate(613.61,1376.20) scale(0.9295,1.0000)" font-size="27.0" fill="#000">TR2</text>
<text transform="translate(709.91,1376.20) scale(0.9355,1.0000)" font-size="27.0" fill="#000">TR7</text>
<text transform="translate(855.02,1376.20) scale(0.9113,1.0000)" font-size="27.0" fill="#000">TR7</text>
<text transform="translate(243.80,1426.13) scale(0.8165,0.9956)" font-size="27.0" fill="#000">–</text>
<text transform="translate(339.32,1426.47) scale(0.9333,0.9333)" font-size="27.0" fill="#000">+</text>
<text transform="translate(486.20,1426.13) scale(0.8165,0.9956)" font-size="27.0" fill="#000">–</text>
<text transform="translate(677.72,1426.47) scale(0.9333,0.9333)" font-size="27.0" fill="#000">+</text>
<text transform="translate(823.80,1426.13) scale(0.8165,0.9956)" font-size="27.0" fill="#000">–</text>
<text transform="translate(919.32,1426.47) scale(0.9333,0.9333)" font-size="27.0" fill="#000">+</text>
<rect x="1298.95" y="220.00" width="57.30" height="193.50" fill="#ff9500" stroke="#111" stroke-width="1.25"/>
<rect x="1387.67" y="120.40" width="57.30" height="293.10" fill="#ff9500" stroke="#111" stroke-width="1.25"/>
<rect x="1476.39" y="309.40" width="57.30" height="104.10" fill="#ff9500" stroke="#111" stroke-width="1.25"/>
<rect x="1565.11" y="233.20" width="57.30" height="180.30" fill="#ff9500" stroke="#111" stroke-width="1.25"/>
<rect x="1653.83" y="313.40" width="57.30" height="100.10" fill="#ff9500" stroke="#111" stroke-width="1.25"/>
<rect x="1742.55" y="312.40" width="57.30" height="101.10" fill="#ff9500" stroke="#111" stroke-width="1.25"/>
<line x1="1253.40" y1="38.50" x2="1830.60" y2="38.50" stroke="#111" stroke-width="1.35" stroke-linecap="butt"/>
<line x1="1268.00" y1="38.50" x2="1268.00" y2="413.50" stroke="#111" stroke-width="1.35" stroke-linecap="butt"/>
<line x1="1830.00" y1="38.50" x2="1830.00" y2="704.20" stroke="#111" stroke-width="1.35" stroke-linecap="butt"/>
<line x1="1253.40" y1="413.50" x2="1830.00" y2="413.50" stroke="#111" stroke-width="1.35" stroke-linecap="butt"/>
<line x1="1253.40" y1="338.50" x2="1268.00" y2="338.50" stroke="#111" stroke-width="1.35" stroke-linecap="butt"/>
<line x1="1253.40" y1="263.50" x2="1268.00" y2="263.50" stroke="#111" stroke-width="1.35" stroke-linecap="butt"/>
<line x1="1253.40" y1="188.50" x2="1268.00" y2="188.50" stroke="#111" stroke-width="1.35" stroke-linecap="butt"/>
<line x1="1253.40" y1="113.50" x2="1268.00" y2="113.50" stroke="#111" stroke-width="1.35" stroke-linecap="butt"/>
<line x1="1327.20" y1="413.50" x2="1327.20" y2="427.50" stroke="#111" stroke-width="1.35" stroke-linecap="butt"/>
<line x1="1415.92" y1="413.50" x2="1415.92" y2="427.50" stroke="#111" stroke-width="1.35" stroke-linecap="butt"/>
<line x1="1504.64" y1="413.50" x2="1504.64" y2="427.50" stroke="#111" stroke-width="1.35" stroke-linecap="butt"/>
<line x1="1593.36" y1="413.50" x2="1593.36" y2="427.50" stroke="#111" stroke-width="1.35" stroke-linecap="butt"/>
<line x1="1682.08" y1="413.50" x2="1682.08" y2="427.50" stroke="#111" stroke-width="1.35" stroke-linecap="butt"/>
<line x1="1770.80" y1="413.50" x2="1770.80" y2="427.50" stroke="#111" stroke-width="1.35" stroke-linecap="butt"/>
<text transform="translate(1230.16,46.50) scale(1.0060,1.0000)" font-size="23.6" fill="#000">5</text>
<text transform="translate(1229.93,121.50) scale(1.0026,1.0000)" font-size="23.6" fill="#000">4</text>
<text transform="translate(1230.25,196.50) scale(1.0148,1.0000)" font-size="23.6" fill="#000">3</text>
<text transform="translate(1230.17,271.50) scale(1.0215,1.0000)" font-size="23.6" fill="#000">2</text>
<text transform="translate(1233.66,346.50) scale(0.6359,1.0000)" font-size="23.6" fill="#000">1</text>
<text transform="translate(1228.47,421.50) scale(1.1271,1.0000)" font-size="23.6" fill="#000">0</text>
<text transform="translate(1206.10,302.46) rotate(-90) scale(1.0544,1.0000)" font-size="27.7" fill="#000">Titre (mg l</text>
<text transform="translate(1192.50,170.94) rotate(-90) scale(0.9710,1.0000)" font-size="16.4" fill="#000">−1</text>
<text transform="translate(1206.10,155.27) rotate(-90) scale(0.9081,1.0000)" font-size="27.7" fill="#000">)</text>
<line x1="1311.60" y1="215.00" x2="1342.00" y2="215.00" stroke="#111" stroke-width="1.25" stroke-linecap="butt"/>
<line x1="1326.80" y1="215.00" x2="1326.80" y2="220.00" stroke="#111" stroke-width="1.25" stroke-linecap="butt"/>
<circle cx="1303.00" cy="223.40" r="5.20" fill="none" stroke="#000" stroke-width="1.25"/>
<circle cx="1327.00" cy="216.40" r="5.20" fill="none" stroke="#000" stroke-width="1.25"/>
<circle cx="1351.00" cy="217.60" r="5.20" fill="none" stroke="#000" stroke-width="1.25"/>
<line x1="1400.20" y1="111.40" x2="1430.60" y2="111.40" stroke="#111" stroke-width="1.25" stroke-linecap="butt"/>
<line x1="1415.40" y1="111.40" x2="1415.40" y2="120.40" stroke="#111" stroke-width="1.25" stroke-linecap="butt"/>
<circle cx="1404.40" cy="125.60" r="5.20" fill="none" stroke="#000" stroke-width="1.25"/>
<circle cx="1415.60" cy="109.60" r="5.20" fill="none" stroke="#000" stroke-width="1.25"/>
<circle cx="1427.00" cy="123.00" r="5.20" fill="none" stroke="#000" stroke-width="1.25"/>
<line x1="1489.20" y1="303.60" x2="1519.60" y2="303.60" stroke="#111" stroke-width="1.25" stroke-linecap="butt"/>
<line x1="1504.40" y1="303.60" x2="1504.40" y2="309.40" stroke="#111" stroke-width="1.25" stroke-linecap="butt"/>
<circle cx="1480.60" cy="313.60" r="5.20" fill="none" stroke="#000" stroke-width="1.25"/>
<circle cx="1504.40" cy="305.40" r="5.20" fill="none" stroke="#000" stroke-width="1.25"/>
<circle cx="1528.60" cy="306.40" r="5.20" fill="none" stroke="#000" stroke-width="1.25"/>
<line x1="1578.00" y1="222.60" x2="1608.40" y2="222.60" stroke="#111" stroke-width="1.25" stroke-linecap="butt"/>
<line x1="1593.20" y1="222.60" x2="1593.20" y2="233.20" stroke="#111" stroke-width="1.25" stroke-linecap="butt"/>
<circle cx="1582.00" cy="223.40" r="5.20" fill="none" stroke="#000" stroke-width="1.25"/>
<circle cx="1604.60" cy="231.00" r="5.20" fill="none" stroke="#000" stroke-width="1.25"/>
<circle cx="1593.00" cy="242.40" r="5.20" fill="none" stroke="#000" stroke-width="1.25"/>
<line x1="1666.80" y1="309.60" x2="1697.20" y2="309.60" stroke="#111" stroke-width="1.25" stroke-linecap="butt"/>
<line x1="1682.00" y1="309.60" x2="1682.00" y2="313.40" stroke="#111" stroke-width="1.25" stroke-linecap="butt"/>
<circle cx="1658.00" cy="315.60" r="5.20" fill="none" stroke="#000" stroke-width="1.25"/>
<circle cx="1682.00" cy="309.60" r="5.20" fill="none" stroke="#000" stroke-width="1.25"/>
<circle cx="1706.00" cy="312.00" r="5.20" fill="none" stroke="#000" stroke-width="1.25"/>
<line x1="1755.40" y1="307.40" x2="1785.80" y2="307.40" stroke="#111" stroke-width="1.25" stroke-linecap="butt"/>
<line x1="1770.60" y1="307.40" x2="1770.60" y2="312.40" stroke="#111" stroke-width="1.25" stroke-linecap="butt"/>
<circle cx="1747.00" cy="314.40" r="5.20" fill="none" stroke="#000" stroke-width="1.25"/>
<circle cx="1770.60" cy="306.60" r="5.20" fill="none" stroke="#000" stroke-width="1.25"/>
<circle cx="1794.60" cy="313.60" r="5.20" fill="none" stroke="#000" stroke-width="1.25"/>
<line x1="1268.00" y1="470.60" x2="1830.00" y2="470.60" stroke="#111" stroke-width="1.35" stroke-linecap="butt"/>
<line x1="1268.00" y1="527.40" x2="1830.00" y2="527.40" stroke="#111" stroke-width="1.35" stroke-linecap="butt"/>
<line x1="1268.00" y1="583.20" x2="1830.00" y2="583.20" stroke="#111" stroke-width="1.35" stroke-linecap="butt"/>
<line x1="1268.00" y1="639.60" x2="1830.00" y2="639.60" stroke="#111" stroke-width="1.35" stroke-linecap="butt"/>
<line x1="1268.00" y1="704.20" x2="1830.60" y2="704.20" stroke="#111" stroke-width="1.35" stroke-linecap="butt"/>
<line x1="1268.40" y1="413.50" x2="1268.40" y2="704.80" stroke="#111" stroke-width="1.35" stroke-linecap="butt"/>
<line x1="1548.80" y1="527.40" x2="1548.80" y2="704.20" stroke="#111" stroke-width="1.35" stroke-linecap="butt"/>
<line x1="1642.60" y1="527.40" x2="1642.60" y2="583.20" stroke="#111" stroke-width="1.35" stroke-linecap="butt"/>
<line x1="1736.20" y1="527.40" x2="1736.20" y2="583.20" stroke="#111" stroke-width="1.35" stroke-linecap="butt"/>
<line x1="1361.80" y1="583.20" x2="1361.80" y2="704.20" stroke="#111" stroke-width="1.35" stroke-linecap="butt"/>
<line x1="1455.60" y1="583.20" x2="1455.60" y2="704.20" stroke="#111" stroke-width="1.35" stroke-linecap="butt"/>
<text transform="translate(1180.81,459.20) scale(1.0517,1.0000)" font-size="27.0" fill="#000">Strain</text>
<text transform="translate(1130.89,509.80) scale(1.0466,1.0000)" font-size="27.0" fill="#000">Extension</text>
<text transform="translate(1103.34,564.60) scale(1.0870,1.0000)" font-size="27.0" fill="#000">Termination</text>
<text transform="translate(1127.72,618.20) scale(0.9875,1.0000)" font-size="27.0" fill="#000">FkbS CCR</text>
<text transform="translate(1199.75,679.00) scale(0.9853,1.0000)" font-size="27.0" fill="#000">CAR</text>
<text transform="translate(1288.65,459.20) scale(1.0686,1.0000)" font-size="27.0" fill="#000">QD40</text>
<text transform="translate(1378.06,459.20) scale(1.0605,1.0000)" font-size="27.0" fill="#000">QD86</text>
<text transform="translate(1467.07,459.20) scale(1.0532,1.0000)" font-size="27.0" fill="#000">QD87</text>
<text transform="translate(1556.50,459.20) scale(1.0239,1.0000)" font-size="27.0" fill="#000">QD73</text>
<text transform="translate(1645.50,459.20) scale(1.0234,1.0000)" font-size="27.0" fill="#000">QD74</text>
<text transform="translate(1735.14,459.20) scale(0.9975,1.0000)" font-size="27.0" fill="#000">QD75</text>
<text transform="translate(1482.49,510.00) scale(1.0004,1.0000)" font-size="27.0" fill="#000">RimM13 AT</text>
<text transform="translate(1385.21,564.60) scale(0.9234,1.0000)" font-size="27.0" fill="#000">TR2</text>
<text transform="translate(1575.95,564.60) scale(0.8271,1.0000)" font-size="27.0" fill="#000">TE1</text>
<text transform="translate(1668.22,564.60) scale(0.8979,1.0000)" font-size="27.0" fill="#000">TE2</text>
<text transform="translate(1760.51,564.60) scale(0.9229,1.0000)" font-size="27.0" fill="#000">TE3</text>
<text transform="translate(1308.60,617.33) scale(0.8165,0.9956)" font-size="27.0" fill="#000">–</text>
<text transform="translate(1401.42,617.07) scale(0.9333,0.9333)" font-size="27.0" fill="#000">+</text>
<text transform="translate(1496.20,617.33) scale(0.8165,0.9956)" font-size="27.0" fill="#000">–</text>
<text transform="translate(1683.00,617.33) scale(0.8165,0.9956)" font-size="27.0" fill="#000">–</text>
<text transform="translate(1308.60,678.33) scale(0.8165,0.9956)" font-size="27.0" fill="#000">–</text>
<text transform="translate(1402.70,678.33) scale(0.8165,0.9956)" font-size="27.0" fill="#000">–</text>
<text transform="translate(1483.82,679.00) scale(0.9868,1.0000)" font-size="27.0" fill="#000">Ma</text>
<text transform="translate(1683.00,678.33) scale(0.8165,0.9956)" font-size="27.0" fill="#000">–</text>
<rect x="1330.55" y="1071.40" width="53.80" height="104.60" fill="#009696" stroke="#111" stroke-width="1.25"/>
<rect x="1413.40" y="970.00" width="53.80" height="206.00" fill="#009696" stroke="#111" stroke-width="1.25"/>
<rect x="1496.25" y="1009.80" width="53.80" height="166.20" fill="#009696" stroke="#111" stroke-width="1.25"/>
<rect x="1579.10" y="1097.20" width="53.80" height="78.80" fill="#009696" stroke="#111" stroke-width="1.25"/>
<rect x="1661.95" y="1076.30" width="53.80" height="99.70" fill="#009696" stroke="#111" stroke-width="1.25"/>
<rect x="1744.80" y="1031.60" width="53.80" height="144.40" fill="#009696" stroke="#111" stroke-width="1.25"/>
<line x1="1205.50" y1="829.00" x2="1828.80" y2="829.00" stroke="#111" stroke-width="1.35" stroke-linecap="butt"/>
<line x1="1219.30" y1="829.00" x2="1219.30" y2="1176.00" stroke="#111" stroke-width="1.35" stroke-linecap="butt"/>
<line x1="1828.20" y1="829.00" x2="1828.20" y2="1442.40" stroke="#111" stroke-width="1.35" stroke-linecap="butt"/>
<line x1="1205.50" y1="1176.00" x2="1828.20" y2="1176.00" stroke="#111" stroke-width="1.35" stroke-linecap="butt"/>
<line x1="1205.50" y1="1106.60" x2="1219.30" y2="1106.60" stroke="#111" stroke-width="1.35" stroke-linecap="butt"/>
<line x1="1205.50" y1="1037.20" x2="1219.30" y2="1037.20" stroke="#111" stroke-width="1.35" stroke-linecap="butt"/>
<line x1="1205.50" y1="967.80" x2="1219.30" y2="967.80" stroke="#111" stroke-width="1.35" stroke-linecap="butt"/>
<line x1="1205.50" y1="898.40" x2="1219.30" y2="898.40" stroke="#111" stroke-width="1.35" stroke-linecap="butt"/>
<line x1="1274.40" y1="1176.00" x2="1274.40" y2="1189.40" stroke="#111" stroke-width="1.35" stroke-linecap="butt"/>
<line x1="1357.25" y1="1176.00" x2="1357.25" y2="1189.40" stroke="#111" stroke-width="1.35" stroke-linecap="butt"/>
<line x1="1440.10" y1="1176.00" x2="1440.10" y2="1189.40" stroke="#111" stroke-width="1.35" stroke-linecap="butt"/>
<line x1="1522.95" y1="1176.00" x2="1522.95" y2="1189.40" stroke="#111" stroke-width="1.35" stroke-linecap="butt"/>
<line x1="1605.80" y1="1176.00" x2="1605.80" y2="1189.40" stroke="#111" stroke-width="1.35" stroke-linecap="butt"/>
<line x1="1688.65" y1="1176.00" x2="1688.65" y2="1189.40" stroke="#111" stroke-width="1.35" stroke-linecap="butt"/>
<line x1="1771.50" y1="1176.00" x2="1771.50" y2="1189.40" stroke="#111" stroke-width="1.35" stroke-linecap="butt"/>
<text transform="translate(1181.86,837.00) scale(1.0060,1.0000)" font-size="23.6" fill="#000">5</text>
<text transform="translate(1181.63,906.40) scale(1.0026,1.0000)" font-size="23.6" fill="#000">4</text>
<text transform="translate(1181.95,975.80) scale(1.0148,1.0000)" font-size="23.6" fill="#000">3</text>
<text transform="translate(1181.87,1045.20) scale(1.0215,1.0000)" font-size="23.6" fill="#000">2</text>
<text transform="translate(1185.36,1114.60) scale(0.6359,1.0000)" font-size="23.6" fill="#000">1</text>
<text transform="translate(1180.17,1184.00) scale(1.1271,1.0000)" font-size="23.6" fill="#000">0</text>
<text transform="translate(1154.30,1083.05) rotate(-90) scale(1.0503,1.0000)" font-size="27.7" fill="#000">Titre (mg l</text>
<text transform="translate(1140.70,952.05) rotate(-90) scale(0.9672,1.0000)" font-size="16.4" fill="#000">−1</text>
<text transform="translate(1154.30,936.45) rotate(-90) scale(0.9046,1.0000)" font-size="27.7" fill="#000">)</text>
<circle cx="1251.90" cy="1176.20" r="5.20" fill="none" stroke="#000" stroke-width="1.25"/>
<circle cx="1274.40" cy="1176.20" r="5.20" fill="none" stroke="#000" stroke-width="1.25"/>
<circle cx="1296.60" cy="1176.20" r="5.20" fill="none" stroke="#000" stroke-width="1.25"/>
<line x1="1343.00" y1="1065.00" x2="1371.00" y2="1065.00" stroke="#111" stroke-width="1.25" stroke-linecap="butt"/>
<line x1="1357.00" y1="1065.00" x2="1357.00" y2="1071.00" stroke="#111" stroke-width="1.25" stroke-linecap="butt"/>
<circle cx="1335.00" cy="1076.20" r="5.20" fill="none" stroke="#000" stroke-width="1.25"/>
<circle cx="1357.00" cy="1065.80" r="5.20" fill="none" stroke="#000" stroke-width="1.25"/>
<circle cx="1379.40" cy="1070.20" r="5.20" fill="none" stroke="#000" stroke-width="1.25"/>
<line x1="1425.60" y1="964.60" x2="1453.60" y2="964.60" stroke="#111" stroke-width="1.25" stroke-linecap="butt"/>
<line x1="1439.60" y1="964.60" x2="1439.60" y2="969.60" stroke="#111" stroke-width="1.25" stroke-linecap="butt"/>
<circle cx="1418.00" cy="974.20" r="5.20" fill="none" stroke="#000" stroke-width="1.25"/>
<circle cx="1439.60" cy="965.80" r="5.20" fill="none" stroke="#000" stroke-width="1.25"/>
<circle cx="1462.00" cy="970.20" r="5.20" fill="none" stroke="#000" stroke-width="1.25"/>
<line x1="1509.00" y1="1006.60" x2="1537.00" y2="1006.60" stroke="#111" stroke-width="1.25" stroke-linecap="butt"/>
<line x1="1523.00" y1="1006.60" x2="1523.00" y2="1009.40" stroke="#111" stroke-width="1.25" stroke-linecap="butt"/>
<circle cx="1501.20" cy="1010.50" r="5.20" fill="none" stroke="#000" stroke-width="1.25"/>
<circle cx="1523.00" cy="1006.40" r="5.20" fill="none" stroke="#000" stroke-width="1.25"/>
<circle cx="1545.10" cy="1009.20" r="5.20" fill="none" stroke="#000" stroke-width="1.25"/>
<line x1="1592.00" y1="1093.50" x2="1620.00" y2="1093.50" stroke="#111" stroke-width="1.25" stroke-linecap="butt"/>
<line x1="1606.00" y1="1093.50" x2="1606.00" y2="1096.80" stroke="#111" stroke-width="1.25" stroke-linecap="butt"/>
<circle cx="1595.60" cy="1092.50" r="5.20" fill="none" stroke="#000" stroke-width="1.25"/>
<circle cx="1616.10" cy="1094.10" r="5.20" fill="none" stroke="#000" stroke-width="1.25"/>
<circle cx="1595.60" cy="1102.80" r="5.20" fill="none" stroke="#000" stroke-width="1.25"/>
<line x1="1674.70" y1="1073.40" x2="1702.70" y2="1073.40" stroke="#111" stroke-width="1.25" stroke-linecap="butt"/>
<line x1="1688.70" y1="1073.40" x2="1688.70" y2="1075.90" stroke="#111" stroke-width="1.25" stroke-linecap="butt"/>
<circle cx="1666.50" cy="1078.60" r="5.20" fill="none" stroke="#000" stroke-width="1.25"/>
<circle cx="1688.70" cy="1073.60" r="5.20" fill="none" stroke="#000" stroke-width="1.25"/>
<circle cx="1710.80" cy="1073.60" r="5.20" fill="none" stroke="#000" stroke-width="1.25"/>
<line x1="1757.50" y1="1025.80" x2="1785.50" y2="1025.80" stroke="#111" stroke-width="1.25" stroke-linecap="butt"/>
<line x1="1771.50" y1="1025.80" x2="1771.50" y2="1031.20" stroke="#111" stroke-width="1.25" stroke-linecap="butt"/>
<circle cx="1749.40" cy="1035.50" r="5.20" fill="none" stroke="#000" stroke-width="1.25"/>
<circle cx="1771.50" cy="1027.30" r="5.20" fill="none" stroke="#000" stroke-width="1.25"/>
<circle cx="1794.10" cy="1027.70" r="5.20" fill="none" stroke="#000" stroke-width="1.25"/>
<line x1="1219.30" y1="1229.90" x2="1828.20" y2="1229.90" stroke="#111" stroke-width="1.35" stroke-linecap="butt"/>
<line x1="1219.30" y1="1283.10" x2="1828.20" y2="1283.10" stroke="#111" stroke-width="1.35" stroke-linecap="butt"/>
<line x1="1219.30" y1="1336.50" x2="1828.20" y2="1336.50" stroke="#111" stroke-width="1.35" stroke-linecap="butt"/>
<line x1="1219.30" y1="1389.70" x2="1828.20" y2="1389.70" stroke="#111" stroke-width="1.35" stroke-linecap="butt"/>
<line x1="1219.30" y1="1442.40" x2="1828.80" y2="1442.40" stroke="#111" stroke-width="1.35" stroke-linecap="butt"/>
<line x1="1219.60" y1="1176.00" x2="1219.60" y2="1443.00" stroke="#111" stroke-width="1.35" stroke-linecap="butt"/>
<line x1="1303.50" y1="1283.10" x2="1303.50" y2="1442.40" stroke="#111" stroke-width="1.35" stroke-linecap="butt"/>
<line x1="1563.80" y1="1283.10" x2="1563.80" y2="1336.50" stroke="#111" stroke-width="1.35" stroke-linecap="butt"/>
<line x1="1563.80" y1="1389.70" x2="1563.80" y2="1442.40" stroke="#111" stroke-width="1.35" stroke-linecap="butt"/>
<line x1="1387.20" y1="1389.70" x2="1387.20" y2="1442.40" stroke="#111" stroke-width="1.35" stroke-linecap="butt"/>
<line x1="1475.40" y1="1389.70" x2="1475.40" y2="1442.40" stroke="#111" stroke-width="1.35" stroke-linecap="butt"/>
<line x1="1651.90" y1="1389.70" x2="1651.90" y2="1442.40" stroke="#111" stroke-width="1.35" stroke-linecap="butt"/>
<line x1="1740.40" y1="1389.70" x2="1740.40" y2="1442.40" stroke="#111" stroke-width="1.35" stroke-linecap="butt"/>
<text transform="translate(1134.71,1217.00) scale(1.0503,1.0000)" font-size="27.0" fill="#000">Strain</text>
<text transform="translate(1161.15,1266.40) scale(0.8763,1.0000)" font-size="27.0" fill="#000">PKS</text>
<text transform="translate(1152.70,1316.30) scale(0.9835,1.0000)" font-size="27.0" fill="#000">ADH</text>
<text transform="translate(1083.25,1368.60) scale(0.9740,1.0000)" font-size="27.0" fill="#000">FkbS CCR</text>
<text transform="translate(1154.08,1423.40) scale(0.9616,1.0000)" font-size="27.0" fill="#000">CAR</text>
<text transform="translate(1238.83,1218.80) scale(1.0063,1.0000)" font-size="27.0" fill="#000">QD87</text>
<text transform="translate(1319.47,1218.80) scale(1.0488,1.0000)" font-size="27.0" fill="#000">QD88</text>
<text transform="translate(1402.07,1218.80) scale(1.0488,1.0000)" font-size="27.0" fill="#000">QD89</text>
<text transform="translate(1484.66,1218.80) scale(1.0599,1.0000)" font-size="27.0" fill="#000">QD90</text>
<text transform="translate(1570.77,1218.80) scale(0.9725,1.0000)" font-size="27.0" fill="#000">QD91</text>
<text transform="translate(1651.48,1218.80) scale(1.0400,1.0000)" font-size="27.0" fill="#000">QD92</text>
<text transform="translate(1734.69,1218.80) scale(1.0385,1.0000)" font-size="27.0" fill="#000">QD93</text>
<text transform="translate(1396.90,1266.50) scale(0.9944,1.0000)" font-size="27.0" fill="#000">RimM0M1(RimM13 AT)-TR2</text>
<text transform="translate(1254.90,1315.43) scale(0.8165,0.9956)" font-size="27.0" fill="#000">–</text>
<text transform="translate(1403.19,1316.30) scale(0.9758,1.0000)" font-size="27.0" fill="#000">YahK</text>
<text transform="translate(1669.18,1316.30) scale(0.9842,1.0000)" font-size="27.0" fill="#000">YjgB</text>
<text transform="translate(1254.90,1368.13) scale(0.8165,0.9956)" font-size="27.0" fill="#000">–</text>
<text transform="translate(1558.72,1368.67) scale(0.9333,0.9333)" font-size="27.0" fill="#000">+</text>
<text transform="translate(1241.87,1423.40) scale(1.0093,1.0000)" font-size="27.0" fill="#000">Ma</text>
<text transform="translate(1325.61,1423.40) scale(0.9896,1.0000)" font-size="27.0" fill="#000">Ma</text>
<text transform="translate(1418.07,1423.40) scale(0.9837,1.0000)" font-size="27.0" fill="#000">Sr</text>
<text transform="translate(1494.80,1423.40) scale(1.0898,1.0000)" font-size="27.0" fill="#000">Mm</text>
<text transform="translate(1588.65,1423.40) scale(0.9699,1.0000)" font-size="27.0" fill="#000">Ma</text>
<text transform="translate(1682.37,1423.40) scale(0.9798,1.0000)" font-size="27.0" fill="#000">Sr</text>
<text transform="translate(1759.15,1423.40) scale(1.1163,1.0000)" font-size="27.0" fill="#000">Mm</text>
</svg>
</body>
</html>
